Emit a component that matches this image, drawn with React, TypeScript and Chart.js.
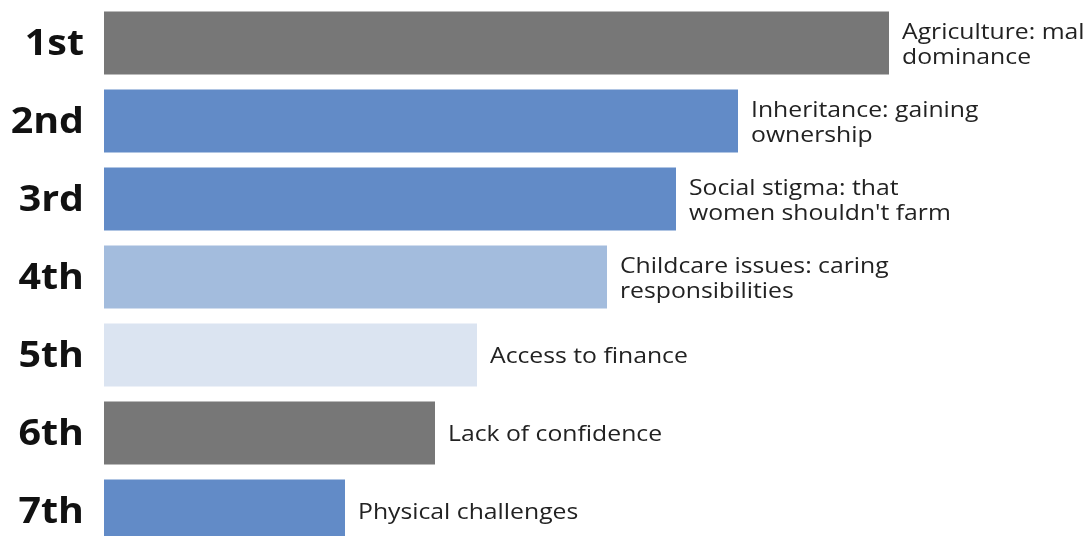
import React, { useEffect, useRef } from "react";
import { Chart, registerables } from "chart.js";

Chart.register(...registerables);

const ranks = ["1st", "2nd", "3rd", "4th", "5th", "6th", "7th"];
const scores = [785, 634, 572, 503, 373, 331, 241];
const barLabels: string[][] = [
  ["Agriculture: male", "dominance"],
  ["Inheritance: gaining", "ownership"],
  ["Social stigma: that", "women shouldn't farm"],
  ["Childcare issues: caring", "responsibilities"],
  ["Access to finance"],
  ["Lack of confidence"],
  ["Physical challenges"],
];
const barColors = ["#777777", "#628bc7", "#628bc7", "#a3bcdd", "#dbe4f1", "#777777", "#628bc7"];

const STRETCH = 1.125;

const labelPlugin = {
  id: "barLabels",
  afterDatasetsDraw(chart: any) {
    const ctx = chart.ctx;
    const meta = chart.getDatasetMeta(0);
    const yScale = chart.scales.y;
    ctx.save();
    ctx.textBaseline = "middle";
    // rank labels (y axis ticks)
    ctx.font = "bold 35px 'Open Sans'";
    ctx.fillStyle = "#111111";
    ctx.textAlign = "right";
    ranks.forEach((r, i) => {
      const y = yScale.getPixelForTick(i);
      ctx.save();
      ctx.translate(yScale.right - 20, y + 2);
      ctx.scale(STRETCH, 1);
      ctx.fillText(r, 0, 0);
      ctx.restore();
    });
    // bar labels
    ctx.font = "22px 'Open Sans'";
    ctx.fillStyle = "#222222";
    ctx.textAlign = "left";
    meta.data.forEach((el: any, i: number) => {
      const lines = barLabels[i];
      const lh = 25;
      const y0 = el.y + 2 - ((lines.length - 1) * lh) / 2;
      lines.forEach((t, j) => {
        ctx.save();
        ctx.translate(el.x + 13, y0 + j * lh);
        ctx.scale(STRETCH, 1);
        ctx.fillText(t, 0, 0);
        ctx.restore();
      });
    });
    ctx.restore();
  },
};

export default function App() {
  const ref = useRef<HTMLCanvasElement>(null);
  useEffect(() => {
    document.body.style.margin = "0";
    document.body.style.overflow = "hidden";
    document.documentElement.style.overflow = "hidden";
    const chart = new Chart(ref.current!, {
      type: "bar",
      data: {
        labels: ranks,
        datasets: [
          {
            data: scores,
            backgroundColor: barColors,
            barPercentage: 1,
            categoryPercentage: 63 / 78,
            clip: false as any,
          },
        ],
      },
      options: {
        indexAxis: "y",
        responsive: false,
        animation: false,
        layout: { padding: { top: 4, bottom: 2, left: 0, right: 0 } },
        plugins: { legend: { display: false }, tooltip: { enabled: false } },
        scales: {
          x: { display: false, min: 0, max: 980 },
          y: {
            grid: { display: false },
            border: { display: false },
            ticks: { display: false },
            afterFit(scale: any) {
              scale.width = 104;
              scale.paddingTop = 0;
              scale.paddingBottom = 0;
            },
          },
        },
      },
      plugins: [labelPlugin],
    });
    return () => chart.destroy();
  }, []);
  return <canvas ref={ref} width={1084} height={552} style={{ display: "block" }} />;
}
